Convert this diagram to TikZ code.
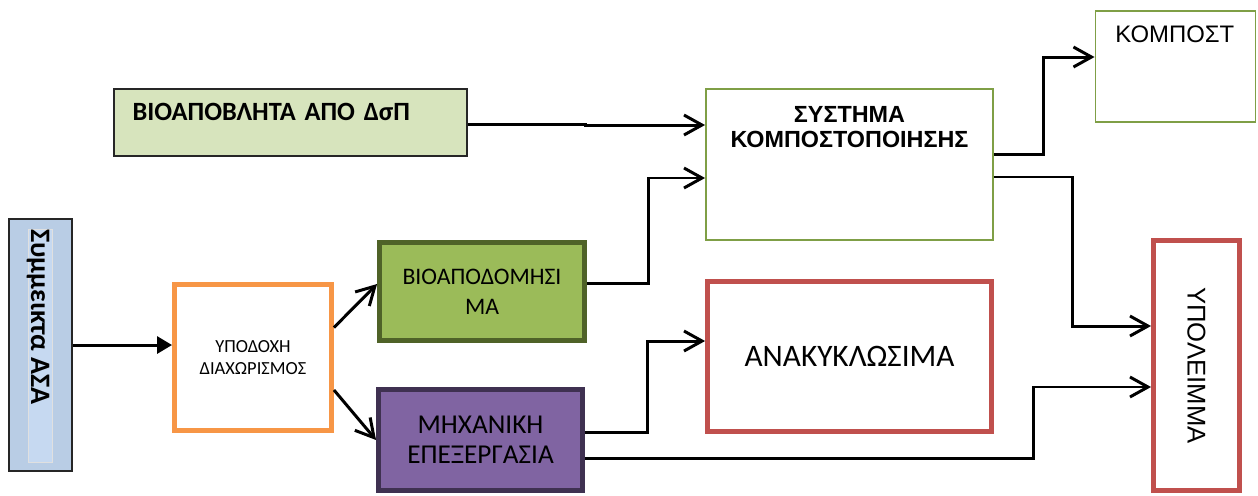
\documentclass[tikz,border=0pt]{standalone}
\usepackage{fontspec}
\setmainfont{Carlito}
\newfontfamily\arialfont{Liberation Sans}
\usetikzlibrary{arrows.meta}
\definecolor{mixblue}{HTML}{B9CDE5}
\definecolor{mixlight}{HTML}{C6D9F1}
\definecolor{recvorange}{HTML}{F79646}
\definecolor{biofill}{HTML}{9BBB59}
\definecolor{bioedge}{HTML}{4F6228}
\definecolor{mechfill}{HTML}{8064A2}
\definecolor{mechedge}{HTML}{3F3151}
\definecolor{wastefill}{HTML}{D7E4BD}
\definecolor{compedge}{HTML}{7F9F46}
\definecolor{resred}{HTML}{C0504D}

\begin{document}
\begin{tikzpicture}[x=0.02cm, y=-0.02cm,
    box/.style={rectangle, draw, inner sep=0pt},
    thinbox/.style={box, line width=1.1pt},
    thickbox/.style={box, line width=2.8pt},
    arr/.style={line width=1.7pt, -{Straight Barb[length=3.6mm,width=4mm]}}]
  \useasboundingbox (0,0) rectangle (1258,495);
  % Input: mixed waste (text reads top to bottom)
  \node[thinbox, draw=black!85, fill=mixblue, minimum width=1.26cm, minimum height=5.04cm] (mixed) at (40.5,345) {};
  \node[rectangle, draw=black!12, fill=mixlight, minimum width=0.48cm, minimum height=4.66cm] (mixstrip) at (40,345.5) {};
  \node[anchor=north, inner sep=0pt, font=\bfseries\fontsize{16}{18}\selectfont] (mixed-txt) at ([xshift=-0.04cm]mixstrip.north) {\rotatebox{-90}{Συμμεικτα ΑΣΑ}};
  % Reception, sorting and its two streams
  \node[thickbox, draw=recvorange, minimum width=3.14cm, minimum height=2.92cm, align=center, font=\fontsize{10.5}{13}\selectfont] (recv) at (253,357.5) {ΥΠΟΔΟΧΗ\\ΔΙΑΧΩΡΙΣΜΟΣ};
  \node[thickbox, draw=bioedge, fill=biofill, minimum width=4.1cm, minimum height=1.96cm, align=center, font=\fontsize{13.5}{17}\selectfont] (bio) at (482,291.5) {ΒΙΟΑΠΟΔΟΜΗΣΙ\\ΜΑ};
  \node[thickbox, draw=mechedge, fill=mechfill, minimum width=4.08cm, minimum height=2.02cm, align=center, font=\fontsize{15.5}{17}\selectfont] (mech) at (480.5,440) {ΜΗΧΑΝΙΚΗ\\ΕΠΕΞΕΡΓΑΣΙΑ};
  % Biowaste from source separation
  \node[thinbox, draw=black!85, fill=wastefill, minimum height=1.34cm, inner xsep=0.37cm, text width=6.32cm, align=left, text height=0.3cm, text depth=0.4cm, font=\bfseries\fontsize{15}{17}\selectfont] (biowaste) at (290.5,122.5) {ΒΙΟΑΠΟΒΛΗΤΑ ΑΠΟ ΔσΠ};
  % Composting system
  \node[thinbox, draw=compedge, minimum width=5.74cm, minimum height=3.02cm] (compsys) at (849.5,164.5) {};
  \node[align=center, inner sep=0pt, font=\arialfont\bfseries\fontsize{13.3}{14.7}\selectfont] (compsys-txt) at (849.5,127) {ΣΥΣΤΗΜΑ\\ΚΟΜΠΟΣΤΟΠΟΙΗΣΗΣ};
  % Products
  \node[thinbox, draw=compedge, minimum width=3.2cm, minimum height=2.22cm] (kompost) at (1175.5,66.5) {};
  \node[anchor=base west, inner sep=0pt, font=\arialfont\fontsize{13.6}{16}\selectfont] (kompost-txt) at (1115,42) {ΚΟΜΠΟΣΤ};
  \node[thickbox, draw=resred, minimum width=5.68cm, minimum height=3cm, font=\fontsize{17.8}{20}\selectfont] (recyc) at (849.5,356.5) {ΑΝΑΚΥΚΛΩΣΙΜΑ};
  \node[thickbox, draw=resred, minimum width=1.72cm, minimum height=5cm, font=\arialfont\fontsize{14.6}{17}\selectfont] (resid) at (1196.5,365.5) {\rotatebox{-90}{ΥΠΟΛΕΙΜΜΑ}};
  % Flows
  \draw[line width=1.7pt, -{Triangle[length=3mm,width=3.4mm]}] (mixed.east) -- (mixed.east -| recv.west);
  \draw[arr] ([yshift=0.6cm]recv.east) -- ([yshift=0.15cm]bio.west);
  \draw[arr] ([yshift=-0.65cm]recv.east) -- (mech.west);
  \draw[arr] ([yshift=-0.03cm]biowaste.east) -- ++(118,0) |- ([yshift=0.79cm]compsys.west);
  \draw[arr] ([yshift=0.17cm]bio.east) -- ++(61.5,0) |- ([yshift=-0.27cm]compsys.west);
  \draw[arr] ([yshift=0.16cm]mech.east) -- ++(63,0) |- ([yshift=0.31cm]recyc.west);
  \draw[arr] ([yshift=-0.36cm]mech.east) -- ++(449,0) |- ([yshift=-0.43cm]resid.west);
  \draw[arr] ([yshift=0.21cm]compsys.east) -- ++(50,0) |- ([yshift=0.19cm]kompost.west);
  \draw[arr] ([yshift=-0.25cm]compsys.east) -- ++(79,0) |- ([yshift=0.79cm]resid.west);
\end{tikzpicture}
\end{document}
